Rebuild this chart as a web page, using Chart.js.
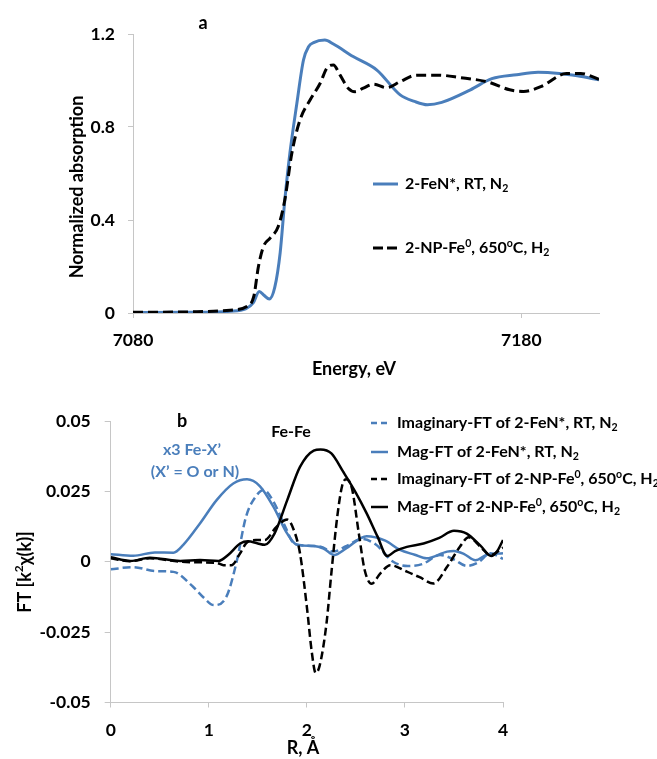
<!DOCTYPE html>
<html>
<head>
<meta charset="utf-8">
<script src="https://cdn.jsdelivr.net/npm/chart.js@4.4.1/dist/chart.umd.min.js"></script>
<style>
  html, body { margin: 0; padding: 0; background: #fff; }
  #wrap { position: relative; width: 657px; height: 759px; }
  #wrap canvas { position: absolute; left: 0; top: 0; }
</style>
</head>
<body>
<div id="wrap">
  <canvas id="cA" width="657" height="759"></canvas>
  <canvas id="cB" width="657" height="759"></canvas>
</div>
<script>
// ---------- Panel a : XANES ----------
const aXTicks = [7080, 7180];
const aXTickLabels = ['7080', '7180'];
const aYTicks = [0, 0.4, 0.8, 1.2];
const aYTickLabels = ['0', '0.4', '0.8', '1.2'];

const aFeNE = [7080, 7095, 7105, 7109, 7111, 7112.5, 7113.8, 7115.1, 7116.5, 7117.9, 7119.1, 7120.4, 7122.2, 7123.9, 7125.2, 7126.5, 7129.4, 7131.6, 7136.7, 7142.8, 7148.8, 7152.5, 7155.8, 7159.5, 7166.9, 7172.4, 7178.8, 7184.3, 7189.8, 7194.4, 7200];
const aFeNY = [0.002, 0.003, 0.008, 0.018, 0.045, 0.093, 0.075, 0.06, 0.11, 0.26, 0.487, 0.687, 0.902, 1.088, 1.145, 1.163, 1.174, 1.157, 1.103, 1.045, 0.938, 0.91, 0.896, 0.906, 0.96, 1.008, 1.025, 1.035, 1.03, 1.02, 1.003];

const aNPE = [7080, 7095, 7105, 7109.3, 7111.1, 7112.3, 7113.6, 7115.3, 7117.4, 7119.1, 7120.9, 7123, 7125.6, 7128.2, 7129.9, 7131.6, 7133.3, 7135.4, 7137.2, 7139.3, 7141.9, 7145.3, 7148.8, 7153, 7158.6, 7164.1, 7171.5, 7177, 7180.6, 7185.2, 7191.6, 7195.3, 7200];
const aNPY = [0.003, 0.005, 0.012, 0.028, 0.071, 0.2, 0.286, 0.322, 0.372, 0.487, 0.687, 0.83, 0.916, 0.988, 1.053, 1.067, 1.024, 0.967, 0.952, 0.967, 0.984, 0.969, 0.995, 1.023, 1.023, 1.013, 0.993, 0.96, 0.953, 0.975, 1.03, 1.03, 1.005];

// ---------- Panel b : Fourier transforms ----------
const bXTicks = [0, 1, 2, 3, 4];
const bXTickLabels = ['0', '1', '2', '3', '4'];
const bYTicks = [-0.05, -0.025, 0, 0.025, 0.05];
const bYTickLabels = ['-0.05', '-0.025', '0', '0.025', '0.05'];

const bImFeNR = [0, 0.23, 0.45, 0.64, 0.84, 0.95, 1.05, 1.18, 1.28, 1.38, 1.49, 1.56, 1.66, 1.78, 1.87, 2.0, 2.14, 2.27, 2.4, 2.56, 2.7, 2.88, 3.03, 3.18, 3.36, 3.5, 3.63, 3.75, 3.87, 4.0];
const bImFeN = [-0.0027, -0.0019, -0.0033, -0.0036, -0.0089, -0.0128, -0.0154, -0.0124, -0.0006, 0.016, 0.0237, 0.0255, 0.0213, 0.0124, 0.0065, 0.0057, 0.0053, 0.0036, 0.0055, 0.0081, 0.0062, 0.0, -0.0015, -0.0008, 0.0024, 0.0008, -0.0015, -0.0002, 0.003, 0.001];

const bMagFeNR = [0, 0.23, 0.45, 0.64, 0.74, 0.91, 1.08, 1.25, 1.39, 1.52, 1.66, 1.8, 1.9, 2.07, 2.17, 2.28, 2.4, 2.61, 2.8, 2.95, 3.1, 3.22, 3.43, 3.5, 3.6, 3.72, 3.83, 4.0];
const bMagFeN = [0.0027, 0.0021, 0.0033, 0.0032, 0.006, 0.0136, 0.0219, 0.0278, 0.0293, 0.0269, 0.0195, 0.01, 0.006, 0.0056, 0.0047, 0.0024, 0.0047, 0.0091, 0.0075, 0.0042, 0.0025, 0.0012, 0.0036, 0.0038, 0.0028, 0.0005, 0.0024, 0.003];

const bImNPR = [0, 0.2, 0.4, 0.71, 0.91, 1.08, 1.15, 1.23, 1.32, 1.38, 1.48, 1.57, 1.69, 1.8, 1.87, 1.93, 2.0, 2.05, 2.09, 2.13, 2.2, 2.25, 2.31, 2.36, 2.4, 2.46, 2.53, 2.59, 2.66, 2.75, 2.85, 3.02, 3.15, 3.29, 3.43, 3.56, 3.65, 3.77, 3.87, 4.0];
const bImNP = [0.0012, 0.0002, 0.0012, 0.0, -0.0002, -0.0004, -0.0012, -0.0012, 0.003, 0.0065, 0.0077, 0.0077, 0.0124, 0.015, 0.011, 0.003, -0.016, -0.032, -0.0395, -0.037, -0.022, -0.004, 0.016, 0.027, 0.0293, 0.026, 0.01, -0.003, -0.0078, -0.0041, -0.0012, -0.0035, -0.0055, -0.0077, -0.0018, 0.0053, 0.0087, 0.0053, 0.0024, 0.005];

const bMagNPR = [0, 0.2, 0.4, 0.71, 0.91, 1.1, 1.2, 1.32, 1.4, 1.5, 1.57, 1.67, 1.8, 1.93, 2.07, 2.14, 2.25, 2.37, 2.5, 2.61, 2.72, 2.82, 2.9, 3.02, 3.19, 3.35, 3.5, 3.63, 3.77, 3.88, 3.94, 4.0];
const bMagNP = [0.0016, 0.0003, 0.0014, 0.0003, 0.0006, 0.0003, 0.0025, 0.0065, 0.0073, 0.0065, 0.006, 0.01, 0.0219, 0.0337, 0.0395, 0.0399, 0.0385, 0.032, 0.0245, 0.0172, 0.009, 0.002, 0.0038, 0.0053, 0.0065, 0.0085, 0.011, 0.010, 0.0057, 0.002, 0.0037, 0.0077];

// ---------- styling ----------
const BLUE = '#4a7ebb';
const BLACK = '#000000';
const AXIS = '#c6c6c6';
const FONT = 'Lato, Carlito, "Open Sans", sans-serif';

function pts(xs, ys) { return xs.map((x, i) => ({ x: x, y: ys[i] })); }

function drawRich(ctx, parts, x, y, size, color, align) {
  ctx.save();
  ctx.fillStyle = color;
  ctx.textBaseline = 'middle';
  ctx.textAlign = 'left';
  let w = 0;
  const widths = parts.map(p => {
    const s = (p.sub || p.sup) ? size * 0.66 : size;
    ctx.font = 'bold ' + s + 'px ' + FONT;
    const m = ctx.measureText(p.t).width;
    w += m;
    return m;
  });
  let cx = align === 'center' ? x - w / 2 : x;
  parts.forEach((p, i) => {
    const s = (p.sub || p.sup) ? size * 0.66 : size;
    ctx.font = 'bold ' + s + 'px ' + FONT;
    const dy = p.sub ? size * 0.28 : (p.sup ? -size * 0.3 : 0);
    ctx.fillText(p.t, cx, y + dy);
    cx += widths[i];
  });
  ctx.restore();
}

function legendLine(ctx, x1, x2, y, color, width, dash) {
  ctx.save();
  ctx.strokeStyle = color;
  ctx.lineWidth = width;
  ctx.setLineDash(dash);
  ctx.beginPath();
  ctx.moveTo(x1, y);
  ctx.lineTo(x2, y);
  ctx.stroke();
  ctx.restore();
}

function scaleCfg(min, max, ticks, labels, fitProp, fitVal, tickLen, pad) {
  return {
    type: 'linear',
    min: min,
    max: max,
    afterBuildTicks: s => { s.ticks = ticks.map(v => ({ value: v })); },
    afterFit: s => { s[fitProp] = fitVal; },
    ticks: {
      color: '#000',
      padding: pad,
      font: { family: FONT, size: 17.5, weight: 'bold' },
      callback: (v) => { const i = ticks.indexOf(v); return i >= 0 ? labels[i] : ''; }
    },
    grid: { drawOnChartArea: false, drawTicks: true, tickLength: tickLen, color: AXIS, lineWidth: 1 },
    border: { display: true, color: AXIS, width: 1 }
  };
}

const baseOpts = {
  responsive: false,
  animation: false,
  devicePixelRatio: 1,
  events: [],
  plugins: { legend: { display: false }, tooltip: { enabled: false } },
  elements: { point: { radius: 0 }, line: { cubicInterpolationMode: 'monotone' } }
};

// ---------- chart a ----------
const annotA = {
  id: 'annotA',
  afterDraw(chart) {
    const ctx = chart.ctx;
    drawRich(ctx, [{ t: 'a' }], 203, 23, 18, '#000', 'center');
    drawRich(ctx, [{ t: 'Energy, eV' }], 354, 369, 18, '#000', 'center');
    ctx.save();
    ctx.translate(77, 187);
    ctx.rotate(-Math.PI / 2);
    drawRich(ctx, [{ t: 'Normalized absorption' }], 0, 0, 18, '#000', 'center');
    ctx.restore();
    legendLine(ctx, 373, 398, 184, BLUE, 3, []);
    drawRich(ctx, [{ t: '2-FeN*, RT, N' }, { t: '2', sub: true }], 405, 184, 16, '#000', 'left');
    legendLine(ctx, 373, 398, 248, BLACK, 3, [10, 4]);
    drawRich(ctx, [{ t: '2-NP-Fe' }, { t: '0', sup: true }, { t: ', 650' }, { t: 'o', sup: true }, { t: 'C, H' }, { t: '2', sub: true }], 405, 248, 16, '#000', 'left');
  }
};

new Chart(document.getElementById('cA'), {
  type: 'line',
  data: {
    datasets: [
      { label: '2-NP-Fe0, 650oC, H2', data: pts(aNPE, aNPY), borderColor: BLACK, borderWidth: 3, borderDash: [10, 5], fill: false, order: 0 },
      { label: '2-FeN*, RT, N2', data: pts(aFeNE, aFeNY), borderColor: BLUE, borderWidth: 3, fill: false, order: 1 }
    ]
  },
  options: Object.assign({}, baseOpts, {
    layout: { padding: { left: 0, top: 34, right: 58, bottom: 759 - 313 - 50 } },
    scales: {
      x: scaleCfg(7080, 7200, aXTicks, aXTickLabels, 'height', 50, 5, 12),
      y: scaleCfg(0, 1.2, aYTicks, aYTickLabels, 'width', 133, 5, 13)
    }
  }),
  plugins: [annotA]
});

// ---------- chart b ----------
const annotB = {
  id: 'annotB',
  afterDraw(chart) {
    const ctx = chart.ctx;
    drawRich(ctx, [{ t: 'b' }], 182, 421, 18, '#000', 'center');
    drawRich(ctx, [{ t: 'Fe-Fe' }], 291, 432, 16, '#000', 'center');
    drawRich(ctx, [{ t: 'x3 Fe-X\u2019' }], 192, 450, 16, BLUE, 'center');
    drawRich(ctx, [{ t: '(X\u2019 = O or N)' }], 195, 472, 16, BLUE, 'center');
    drawRich(ctx, [{ t: 'R, \u00C5' }], 303, 748, 18, '#000', 'center');
    ctx.save();
    ctx.translate(25, 572);
    ctx.rotate(-Math.PI / 2);
    drawRich(ctx, [{ t: 'FT [k' }, { t: '2', sup: true }, { t: '\u03C7(k)]' }], 0, 0, 18, '#000', 'center');
    ctx.restore();
    const rows = [
      { y: 423, c: BLUE, d: [6, 4], parts: [{ t: 'Imaginary-FT of 2-FeN*, RT, N' }, { t: '2', sub: true }] },
      { y: 452, c: BLUE, d: [], parts: [{ t: 'Mag-FT of 2-FeN*, RT, N' }, { t: '2', sub: true }] },
      { y: 479, c: BLACK, d: [6, 4], parts: [{ t: 'Imaginary-FT of 2-NP-Fe' }, { t: '0', sup: true }, { t: ', 650' }, { t: 'o', sup: true }, { t: 'C, H' }, { t: '2', sub: true }] },
      { y: 507, c: BLACK, d: [], parts: [{ t: 'Mag-FT of 2-NP-Fe' }, { t: '0', sup: true }, { t: ', 650' }, { t: 'o', sup: true }, { t: 'C, H' }, { t: '2', sub: true }] }
    ];
    rows.forEach(r => {
      legendLine(ctx, 371, 388, r.y, r.c, 2.5, r.d);
      drawRich(ctx, r.parts, 397, r.y, 16, '#000', 'left');
    });
  }
};

new Chart(document.getElementById('cB'), {
  type: 'line',
  data: {
    datasets: [
      { label: 'Mag-FT of 2-NP-Fe0, 650oC, H2', data: pts(bMagNPR, bMagNP), borderColor: BLACK, borderWidth: 2.5, fill: false, order: 0 },
      { label: 'Imaginary-FT of 2-NP-Fe0, 650oC, H2', data: pts(bImNPR, bImNP), borderColor: BLACK, borderWidth: 2.5, borderDash: [8, 4], fill: false, order: 1 },
      { label: 'Mag-FT of 2-FeN*, RT, N2', data: pts(bMagFeNR, bMagFeN), borderColor: BLUE, borderWidth: 2.5, fill: false, order: 2 },
      { label: 'Imaginary-FT of 2-FeN*, RT, N2', data: pts(bImFeNR, bImFeN), borderColor: BLUE, borderWidth: 2.5, borderDash: [8, 4], fill: false, order: 3 }
    ]
  },
  options: Object.assign({}, baseOpts, {
    layout: { padding: { left: 0, top: 421, right: 154, bottom: 759 - 702.5 - 50 } },
    scales: {
      x: scaleCfg(0, 4, bXTicks, bXTickLabels, 'height', 50, 5, 12),
      y: scaleCfg(-0.05, 0.05, bYTicks, bYTickLabels, 'width', 110.7, 6, 14)
    }
  }),
  plugins: [annotB]
});
</script>
</body>
</html>
